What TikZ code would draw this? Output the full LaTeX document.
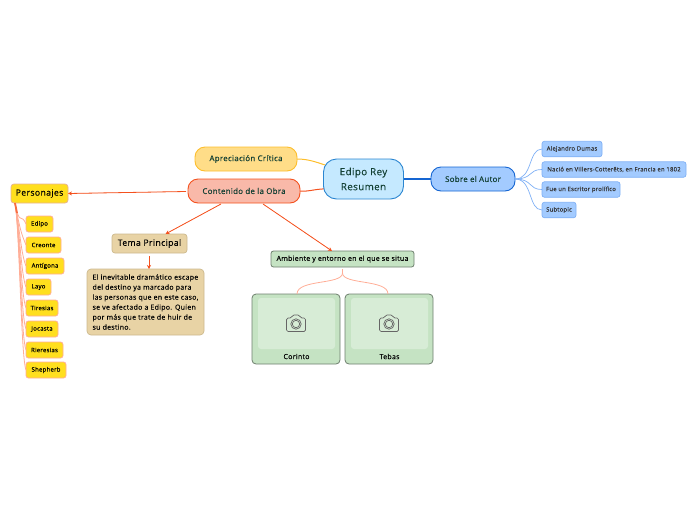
\documentclass[tikz,border=0pt]{standalone}
\usepackage{fontspec}
\setmainfont{Open Sans}[FakeBold=0.2,LetterSpace=4]
\usetikzlibrary{arrows.meta,calc,backgrounds}
\definecolor{rootfill}{HTML}{C5E9FF}
\definecolor{rootline}{HTML}{2B86D1}
\definecolor{yelfill}{HTML}{FFDD88}
\definecolor{yelline}{HTML}{FDBE2C}
\definecolor{redfill}{HTML}{F9B9A9}
\definecolor{redline}{HTML}{F4511E}
\definecolor{bluefill}{HTML}{A3CBFF}
\definecolor{blueline}{HTML}{1565D2}
\definecolor{subline}{HTML}{7FB0F5}
\definecolor{tanfill}{HTML}{E8D3A5}
\definecolor{tanline}{HTML}{CDB98E}
\definecolor{grfill}{HTML}{C5E3C3}
\definecolor{grinner}{HTML}{D7ECD6}
\definecolor{grline}{HTML}{6E7F6E}
\definecolor{goldfill}{HTML}{FFDF1E}
\definecolor{peach}{HTML}{FFAD96}
\definecolor{darktxt}{HTML}{123F33}
\tikzset{
  box/.style={draw,anchor=center,inner sep=0pt,outer sep=0pt,align=center,text=black},
  rootnode/.style={box,fill=rootfill,draw=rootline,line width=.9pt,rounded corners=13pt,minimum width=80pt,minimum height=40pt,font=\fontsize{9.8}{15}\selectfont,text=darktxt},
  topic/.style={box,line width=.9pt,rounded corners=10pt,minimum height=24pt,font=\fontsize{7.85}{9}\selectfont,text=darktxt},
  leafblue/.style={box,fill=bluefill,draw=subline,line width=.7pt,rounded corners=2.5pt,font=\fontsize{5.9}{7}\selectfont,minimum height=15.5pt,text=black!80},
  leafgold/.style={box,fill=goldfill,draw=peach,line width=.8pt,rounded corners=2.5pt,font=\fontsize{6}{7}\selectfont,minimum height=16pt},
  tanbox/.style={box,fill=tanfill,draw=tanline,line width=.7pt,rounded corners=3pt},
  photo/.style={box,fill=grfill,draw=grline,line width=.8pt,rounded corners=4pt,minimum width=88pt,minimum height=70pt},
  link/.style={line width=1pt},
  arrowlink/.style={draw=redline,fill=redline,line width=.8pt,-{Stealth[length=4pt,width=4pt]}},
  twig/.style={draw=peach,line width=.8pt},
  blue twig/.style={draw=subline,line width=.7pt},
}
\newcommand{\cameraicon}[1]{%
  \begin{scope}[shift={(#1)},draw=black!60,line width=.7pt]
    \draw[rounded corners=1.5pt] (-9.5,-5.5) -- (-4.5,-5.5) -- (-3.5,-8.5) -- (3.5,-8.5) -- (4.5,-5.5) -- (9.5,-5.5) -- (9.5,8) -- (-9.5,8) -- cycle;
    \draw (0,.5) circle (5.2);
    \draw (0,.5) circle (3.7);
  \end{scope}}
\begin{document}
\begin{tikzpicture}[x=1pt,y=-1pt]
\useasboundingbox (0,0) rectangle (696,520);
\node[rootnode] (root) at (363.5,179) {Edipo Rey\\Resumen};
\node[topic,fill=yelfill,draw=yelline,minimum width=102pt] (apre) at (246,159) {Apreciación Crítica};
\node[topic,fill=redfill,draw=redline,minimum width=112pt] (cont) at (244,191) {Contenido de la Obra};
\node[topic,fill=bluefill,draw=blueline,minimum width=84pt] (sobre) at (473,179) {Sobre el Autor};
\node[leafblue,minimum width=60pt] (s1) at (572,149) {Alejandro Dumas};
\node[leafblue,minimum width=144pt] (s2) at (614,169.5) {Nació en Villers-Cotterêts, en Francia en 1802};
\node[leafblue,minimum width=78pt] (s3) at (581,189.5) {Fue un Escritor prolífico};
\node[leafblue,minimum width=34pt] (s4) at (559,210) {Subtopic};
\node[box,fill=goldfill,draw=peach!50!tanline,line width=.8pt,rounded corners=3pt,minimum width=57pt,minimum height=19pt,font=\fontsize{8.7}{10}\selectfont] (pers) at (39.5,193.5) {Personajes};
\node[leafgold,minimum width=27pt] (p1) at (39.5,224) {Edipo};
\node[leafgold,minimum width=35pt] (p2) at (43.5,245) {Creonte};
\node[leafgold,minimum width=38pt] (p3) at (45,266) {Antígona};
\node[leafgold,minimum width=25pt] (p4) at (38.5,287) {Layo};
\node[leafgold,minimum width=32pt] (p5) at (42,308) {Tiresias};
\node[leafgold,minimum width=32pt] (p6) at (42,329) {Jocasta};
\node[leafgold,minimum width=37pt] (p7) at (44.5,350) {Rieresias};
\node[leafgold,minimum width=40pt] (p8) at (46,370) {Shepherb};
\node[tanbox,minimum width=75pt,minimum height=19pt,font=\fontsize{8.7}{10}\selectfont] (tema) at (149.5,243.5) {Tema Principal};
\node[tanbox,minimum width=117pt,minimum height=66pt,rounded corners=4pt,font=\fontsize{7}{10}\selectfont,align=left] (desc) at (145.5,302) {El inevitable dramático escape\\del destino ya marcado para\\las personas que en este caso,\\se ve afectado a Edipo. Quien\\por más que trate de huir de\\su destino.};
\node[box,fill=grfill,draw=grline,line width=.8pt,rounded corners=2.5pt,minimum width=143pt,minimum height=16pt,font=\fontsize{7}{8}\selectfont] (amb) at (342.5,259) {Ambiente y entorno en el que se situa};
\node[photo] (cor) at (296,329) {};
\node[photo] (teb) at (389,329) {};
\node[fill=grinner,rounded corners=3pt,minimum width=77pt,minimum height=51pt,inner sep=0pt] (corin) at (296.5,323.5) {};
\node[fill=grinner,rounded corners=3pt,minimum width=77pt,minimum height=51pt,inner sep=0pt] (tebin) at (389.5,323.5) {};
\node[font=\fontsize{7}{8}\selectfont] (corl) at (296.5,356.5) {Corinto};
\node[font=\fontsize{7}{8}\selectfont] (tebl) at (389.5,356.5) {Tebas};
\cameraicon{296,323.5}
\cameraicon{389,323.5}
\begin{scope}[on background layer]
\draw[link,draw=yelline] (apre.east) .. controls (310,159) and (318,163) .. ([xshift=8pt,yshift=12pt]root.west);
\draw[link,draw=redline] (cont.east) .. controls (310,192) and (316,188) .. ([xshift=8pt,yshift=-10pt]root.west);
\draw[draw=blueline,line width=1.2pt] (root.east) -- (sobre.west);
\end{scope}
\draw[arrowlink] ([xshift=-2pt,yshift=-.5pt]cont.west) -- (pers.east);
\draw[arrowlink] ([xshift=-23pt,yshift=-1pt]cont.south) -- ([xshift=16pt]tema.north);
\draw[arrowlink] ([xshift=19pt,yshift=-1pt]cont.south) -- ([xshift=-10.5pt]amb.north);
\draw[arrowlink] ([yshift=-3pt,xshift=-.5pt]tema.south) -- ([xshift=3.5pt]desc.north);
\foreach \n in {s1,s2,s3,s4}
  \draw[blue twig] (sobre.east) .. controls ($(sobre.east)+(18,0)$) and ($(\n.west)+(-14,0)$) .. (\n.west);
\foreach \n in {p1,p2,p3,p4,p5,p6,p7,p8}
  \draw[twig] ([xshift=-24.5pt]pers.south) .. controls ($(pers.south)+(-20,24)$) and ($(\n.west)+(-5,-12)$) .. (\n.west);
\draw[twig,line width=1.8pt,draw=redline!70!peach] ([xshift=-24.5pt]pers.south) -- ($(pers.south)+(-22.5,10)$);
\draw[twig] ([yshift=-2pt]amb.south) -- ([yshift=-6pt]amb.south);
\draw[twig] ([yshift=-6pt]amb.south) .. controls ($(amb.south)+(0,18)$) and ($(cor.north)+(1,-15)$) .. ([xshift=1pt]cor.north);
\draw[twig] ([yshift=-6pt]amb.south) .. controls ($(amb.south)+(0,18)$) and ($(teb.north)+(-1,-15)$) .. ([xshift=-1pt]teb.north);
\end{tikzpicture}
\end{document}
